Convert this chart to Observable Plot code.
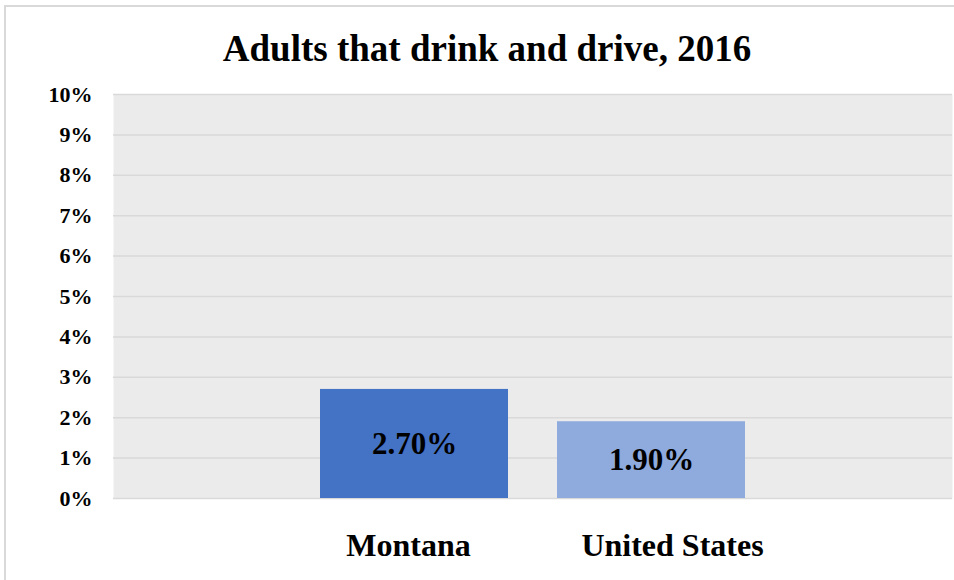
<!DOCTYPE html>
<html><head><meta charset="utf-8">
<script src="https://cdn.jsdelivr.net/npm/d3@7"></script>
<script src="https://cdn.jsdelivr.net/npm/@observablehq/plot@0.6"></script>
<style>
body{margin:0;background:#fff;overflow:hidden}
#wrap{position:relative;width:954px;height:580px;font-family:"Liberation Serif","Times New Roman",serif;overflow:hidden}
#border{position:absolute;left:4px;top:5px;width:1200px;height:1200px;border-left:2px solid #d9d9d9;border-top:2px solid #d9d9d9;pointer-events:none}
#title{box-sizing:border-box;width:954px;height:80px;padding-top:30px;padding-left:20px;text-align:center;font-size:37px;line-height:37px;font-weight:bold;color:#000}
#chart svg{display:block}
</style></head><body>
<div id="wrap"><div id="title">Adults that drink and drive, 2016</div><div id="chart"></div><div id="border"></div></div>
<script>
const regions = ["Montana", "United States"];
const rates = [0.027, 0.019];
const rateLabels = ["2.70%", "1.90%"];
const barColors = ["#4472C4", "#8FAADC"];
const yTicks = [0, 0.01, 0.02, 0.03, 0.04, 0.05, 0.06, 0.07, 0.08, 0.09, 0.10];

const data = regions.map((r, i) => ({region: r, rate: rates[i], label: rateLabels[i]}));

const chart = Plot.plot({
  width: 954, height: 500,
  marginTop: 14, marginBottom: 82, marginLeft: 113, marginRight: 2,
  style: {fontFamily: '"Liberation Serif","Times New Roman",serif', fontWeight: "bold", color: "#000", background: "transparent", overflow: "visible"},
  x: {type: "band", domain: regions, paddingInner: 0.206, paddingOuter: 0.866},
  y: {domain: [0, 0.1]},
  color: {domain: regions, range: barColors},
  marks: [
    Plot.frame({fill: "#ebebeb", stroke: "none"}),
    Plot.ruleY(yTicks, {stroke: "#d9d9d9", strokeWidth: 1.5}),
    Plot.barY(data, {x: "region", y: "rate", fill: "region"}),
    Plot.text(data, {x: "region", y: d => d.rate / 2, text: "label", fontSize: 31, fontWeight: "bold", fill: "#000"}),
    Plot.axisY({ticks: yTicks, tickFormat: d3.format(".0%"), tickSize: 0, tickPadding: 21, fontSize: 22, fontWeight: "bold", label: null}),
    Plot.axisX([regions[0]], {tickSize: 0, tickPadding: 35, dx: -6, fontSize: 32, fontWeight: "bold", label: null}),
    Plot.axisX([regions[1]], {tickSize: 0, tickPadding: 35, dx: 21, fontSize: 32, fontWeight: "bold", label: null})
  ]
});
document.getElementById("chart").appendChild(chart);
</script>
</body></html>
